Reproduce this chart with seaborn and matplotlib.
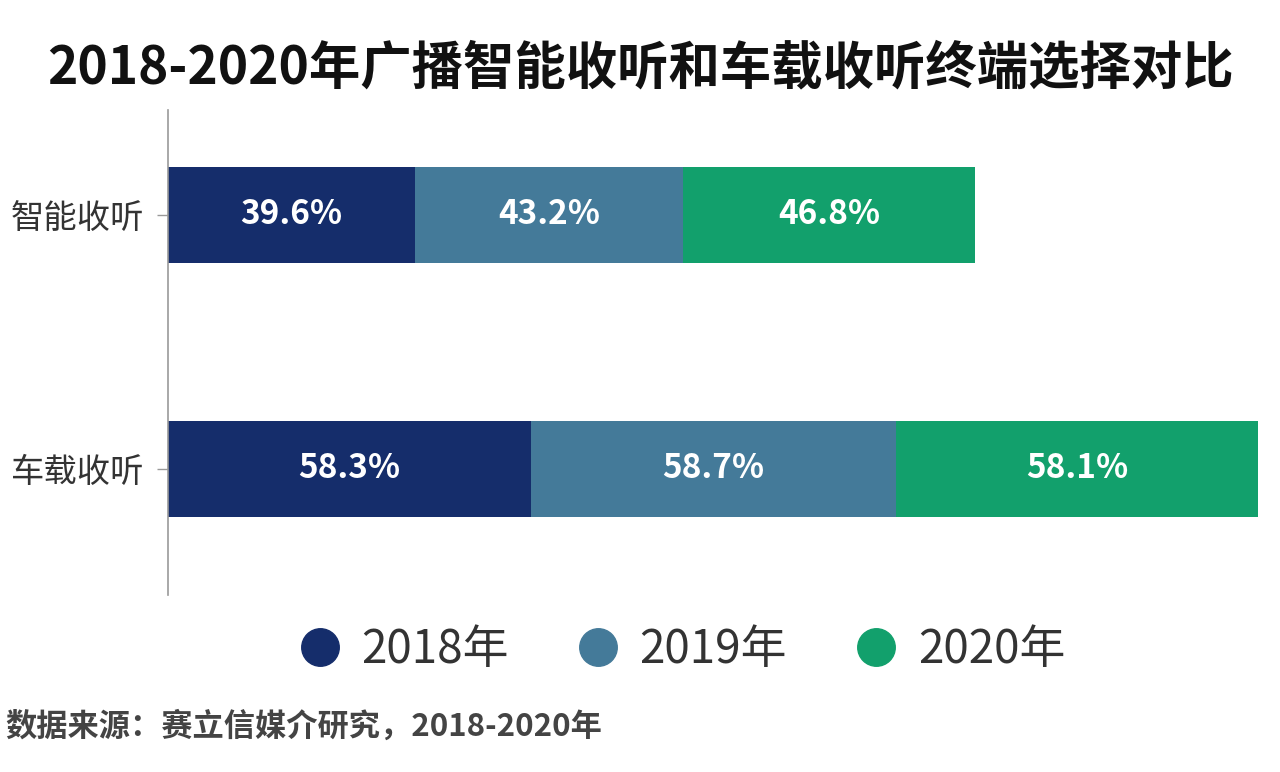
import numpy as np
import pandas as pd
import matplotlib
matplotlib.use("Agg")
import matplotlib.pyplot as plt
from matplotlib.lines import Line2D
import seaborn as sns

# data
categories = ["智能收听", "车载收听"]
years = ["2018年", "2019年", "2020年"]
share_2018 = [39.6, 58.3]
share_2019 = [43.2, 58.7]
share_2020 = [46.8, 58.1]
colors = ["#152d6b", "#447a99", "#12a06c"]

sns.set_theme(style="white")
plt.rcParams["font.family"] = ["Noto Sans CJK SC", "DejaVu Sans"]

values = np.array([share_2018, share_2019, share_2020])
cum = values.cumsum(axis=0)

fig = plt.figure(figsize=(12.8, 7.72), dpi=100)
ax = fig.add_axes([0.13125, 0.2293, 0.8516, 0.6282])

# stacked bars: draw cumulative totals, longest first
for i in reversed(range(len(years))):
    df = pd.DataFrame({"cat": categories, "val": cum[i]})
    sns.barplot(data=df, x="val", y="cat", color=colors[i], width=0.378,
                orient="h", saturation=1, ax=ax, linewidth=0)

# value labels in the middle of each segment
for i in range(len(years)):
    for j in range(len(categories)):
        left = cum[i][j] - values[i][j]
        ax.text(left + values[i][j] / 2, j, f"{values[i][j]:.1f}%",
                ha="center", va="center", color="white",
                fontsize=24, fontweight="bold")

ax.set_xlim(0, cum[-1].max())
ax.set_ylim(1.496, -0.413)
ax.set_xlabel("")
ax.set_ylabel("")
ax.set_xticks([])
ax.tick_params(axis="y", labelsize=24, labelcolor="#333333", length=8,
               width=1, color="#999999", left=True, pad=9)
for s in ["top", "right", "bottom"]:
    ax.spines[s].set_visible(False)
ax.spines["left"].set_color("#999999")
ax.spines["left"].set_linewidth(1.2)

fig.text(0.5, 0.912, "2018-2020年广播智能收听和车载收听终端选择对比",
         ha="center", va="center", fontsize=37, fontweight="bold", color="#111111")

handles = [Line2D([0], [0], marker="o", linestyle="none", markersize=27,
                  markerfacecolor=c, markeredgecolor=c) for c in colors]
fig.legend(handles, years, loc="center", bbox_to_anchor=(0.532, 0.158),
           ncol=3, frameon=False, fontsize=33, handlelength=1.0,
           handletextpad=0.41, columnspacing=1.44, labelcolor="#333333")

fig.text(0.004, 0.058, "数据来源：赛立信媒介研究，2018-2020年",
         ha="left", va="center", fontsize=22.5, fontweight="bold", color="#444444")

fig.savefig("out.png", dpi=100, facecolor="white")
